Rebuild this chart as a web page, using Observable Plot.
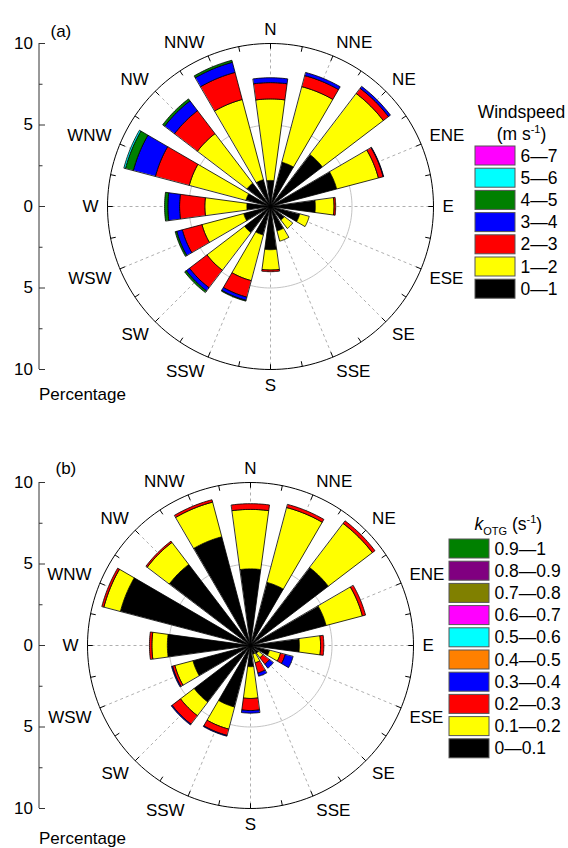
<!DOCTYPE html>
<html><head><meta charset="utf-8">
<script src="https://cdn.jsdelivr.net/npm/d3@7"></script>
<script src="https://cdn.jsdelivr.net/npm/@observablehq/plot@0.6"></script>
<style>
body{margin:0;background:#fff;}
svg{display:block;}
</style></head><body><div id="root"></div>
<script>
// ---------------- data ----------------
const directions = ["N","NNE","NE","ENE","E","ESE","SE","SSE","S","SSW","SW","WSW","W","WNW","NW","NNW"];
const axisTickValues = [10, 5, 0, -5, -10];
const axisTickLabels = ["10", "5", "0", "5", "10"];

// (a) wind speed bins (m s-1): percentage per direction
const speedBins = ["0\u20141","1\u20142","2\u20143","3\u20144","4\u20145","5\u20146","6\u20147"];
const speedColors = ["#000000","#ffff00","#ff0000","#0000ff","#008000","#00ffff","#ff00ff"];
const speed_0_1 = [1.6,2.8,4.0,4.2,2.75,1.85,1.05,1.55,2.65,1.8,2.0,1.7,1.45,1.55,1.8,1.7];
const speed_1_2 = [5.0,4.8,4.7,2.65,1.15,0.6,0.65,0.65,1.25,2.9,2.9,2.65,2.58,3.6,3.82,5.09];
const speed_2_3 = [1.0,0.7,0.4,0.3,0.1,0,0,0,0.1,1.05,1.35,1.25,1.55,2.15,1.77,1.72];
const speed_3_4 = [0.3,0.2,0.15,0.03,0,0,0,0,0,0.2,0.25,0.35,0.72,1.4,0.76,0.64];
const speed_4_5 = [0,0,0,0,0,0,0,0,0,0.05,0.12,0.1,0.2,0.5,0.15,0.13];
const speed_5_6 = [0,0,0,0,0,0,0,0,0,0,0,0,0,0.1,0,0];
const speed_6_7 = [0,0,0,0,0,0,0,0,0,0,0,0,0,0,0,0];

// (b) kOTG bins (s-1): percentage per direction
const kBins = ["0\u20140.1","0.1\u20140.2","0.2\u20140.3","0.3\u20140.4","0.4\u20140.5","0.5\u20140.6","0.6\u20140.7","0.7\u20140.8","0.8\u20140.9","0.9\u20141"];
const kColors = ["#000000","#ffff00","#ff0000","#0000ff","#ff8000","#00ffff","#ff00ff","#808000","#800080","#008000"];
const k_00_01 = [4.7,4.0,6.0,4.8,3.0,1.2,0.6,0.55,1.3,3.9,4.35,3.65,5.1,8.25,6.25,6.9];
const k_01_02 = [3.65,4.75,3.4,2.3,1.3,0.7,0.35,0.55,1.95,1.4,1.05,1.15,0.95,1.05,1.7,2.2];
const k_02_03 = [0.35,0.2,0.2,0.2,0.2,0.3,0.5,0.65,0.74,0.4,0.65,0.15,0.15,0.13,0.1,0.15];
const k_03_04 = [0,0,0,0,0,0.5,0.3,0.2,0.16,0.05,0.06,0.06,0,0,0,0];
const k_04_05 = [0,0,0,0,0,0,0,0,0,0,0,0,0,0,0,0];
const k_05_06 = [0,0,0,0,0,0,0,0,0,0,0,0,0,0,0,0];
const k_06_07 = [0,0,0,0,0,0,0,0,0,0,0,0,0,0,0,0];
const k_07_08 = [0,0,0,0,0,0,0,0,0,0,0,0,0,0,0,0];
const k_08_09 = [0,0,0,0,0,0,0,0,0,0,0,0,0,0,0,0];
const k_09_10 = [0,0,0,0,0,0,0,0,0,0,0,0,0,0,0,0];

// ---------------- drawing ----------------
const FONT = "Liberation Sans, Arial, Helvetica, sans-serif";
const K = 16.3; // pixels per percent
const RMAX = 10;
const HW = 7.7 * Math.PI / 180;

function sectorPts(th, r0, r1, n = 14) {
  const pts = [];
  for (let t = 0; t <= n; t++) { const a = th - HW + 2 * HW * t / n; pts.push([r1 * Math.sin(a), r1 * Math.cos(a)]); }
  if (r0 <= 0) pts.push([0, 0]);
  else for (let t = n; t >= 0; t--) { const a = th - HW + 2 * HW * t / n; pts.push([r0 * Math.sin(a), r0 * Math.cos(a)]); }
  return pts;
}

function windrose(cfg) {
  const {W, H, cx, cy, series, colors, bins, panel, panelX, panelY, percentY, legend} = cfg;
  const ux = px => (px - cx) / K, uy = py => (cy - py) / K;

  const segs = [];
  directions.forEach((d, i) => {
    const th = i * Math.PI / 8;
    let r0 = 0;
    series.forEach((arr, j) => {
      const v = arr[i];
      if (!(v > 0)) return;
      const r1 = r0 + v;
      sectorPts(th, r0, r1).forEach(([x, y]) => segs.push({x, y, id: i + "-" + j, fill: colors[j]}));
      r0 = r1;
    });
  });

  const circle = r => d3.range(0, 361, 2).map(a => ({x: r * Math.sin(a * Math.PI / 180), y: r * Math.cos(a * Math.PI / 180)}));
  const ringTicks = d3.range(32).map(i => i * Math.PI / 16);
  const dirInfo = directions.map((d, i) => {
    const th = i * Math.PI / 8, s = Math.sin(th), c = Math.cos(th);
    return {d, th, s, c,
      ta: s > 0.01 ? "start" : s < -0.01 ? "end" : "middle",
      la: c > 0.01 ? "bottom" : c < -0.01 ? "top" : "middle"};
  });
  const labelR = 172 / K;
  const labelMarks = [];
  for (const ta of ["start", "middle", "end"]) for (const la of ["top", "middle", "bottom"]) {
    const sub = dirInfo.filter(o => o.ta === ta && o.la === la);
    if (!sub.length) continue;
    labelMarks.push(Plot.text(sub, {x: o => labelR * o.s, y: o => labelR * o.c, text: "d",
      textAnchor: ta, lineAnchor: la, fontSize: 17}));
  }

  const axisX = ux(38.5);
  const minorTicks = [7.5, 2.5, -2.5, -7.5];
  const lg = legend;
  const legData = bins.map((b, j) => ({b, color: colors[j]})).reverse();

  const svg = Plot.plot({
    width: W, height: H, margin: 0,
    x: {domain: [ux(0), ux(W)], axis: null},
    y: {domain: [uy(H), uy(0)], axis: null},
    color: {type: "identity"},
    style: {fontFamily: FONT, fontSize: "17px", background: "#fff", overflow: "visible"},
    marks: [
      // spokes and inner ring
      Plot.link(dirInfo, {x1: 0, y1: 0, x2: o => RMAX * o.s, y2: o => RMAX * o.c, stroke: "#9a9a9a", strokeWidth: 0.8, strokeDasharray: "3,3"}),
      Plot.line(circle(5), {x: "x", y: "y", stroke: "#c4c4c4", strokeWidth: 1}),
      // bars
      Plot.line(segs, {x: "x", y: "y", z: "id", fill: "fill", stroke: "#000", strokeWidth: 0.8, strokeLinejoin: "miter", curve: "linear-closed"}),
      // outer ring with ticks
      Plot.line(circle(RMAX), {x: "x", y: "y", stroke: "#000", strokeWidth: 1}),
      Plot.link(ringTicks, {x1: a => RMAX * Math.sin(a), y1: a => RMAX * Math.cos(a), x2: a => (RMAX - 0.32) * Math.sin(a), y2: a => (RMAX - 0.32) * Math.cos(a), stroke: "#000", strokeWidth: 1}),
      ...labelMarks,
      // left percentage axis
      Plot.ruleX([axisX], {y1: -RMAX, y2: RMAX, stroke: "#333", strokeWidth: 1}),
      Plot.link(axisTickValues, {x1: () => axisX, x2: () => axisX + 6 / K, y1: d => d, y2: d => d, stroke: "#333", strokeWidth: 1}),
      Plot.link(minorTicks, {x1: () => axisX, x2: () => axisX + 3.5 / K, y1: d => d, y2: d => d, stroke: "#333", strokeWidth: 1}),
      Plot.text(axisTickValues, {x: () => axisX - 6 / K, y: d => d, text: (d, i) => axisTickLabels[i], textAnchor: "end", fontSize: 17}),
      Plot.text([panel], {x: () => ux(panelX), y: () => uy(panelY), text: d => d, textAnchor: "start", lineAnchor: "bottom", fontSize: 17}),
      Plot.text(["Percentage"], {x: () => ux(38.5), y: () => uy(percentY), text: d => d, textAnchor: "start", lineAnchor: "bottom", fontSize: 17}),
      // legend
      Plot.rect(legData, {x1: () => ux(lg.x0), x2: () => ux(lg.x0 + lg.w), y1: (d, i) => uy(lg.top + i * lg.step), y2: (d, i) => uy(lg.top + i * lg.step + lg.h), fill: "color", stroke: "#555", strokeWidth: 1}),
      Plot.text(legData, {x: () => ux(lg.textX), y: (d, i) => uy(lg.top + i * lg.step + lg.h / 2), text: "b", textAnchor: "start", fontSize: 17.5}),
      ...lg.titles.map(t => Plot.text([t.text], {x: () => ux(t.x), y: () => uy(t.y), text: d => d, textAnchor: t.anchor, lineAnchor: "bottom", fontSize: 17.5}))
    ]
  });
  return svg;
}

function richText(svg, match, parts) {
  d3.select(svg).selectAll("text").filter(function () { return this.textContent === match; }).each(function () {
    const t = d3.select(this);
    t.text(null);
    parts.forEach(p => {
      const s = t.append("tspan").text(p.text);
      if (p.size) s.attr("font-size", p.size);
      if (p.dy) s.attr("dy", p.dy);
      if (p.italic) s.attr("font-style", "italic");
    });
  });
}

const root = document.getElementById("root");
const svgA = windrose({
  W: 568, H: 424, cx: 270, cy: 206,
  series: [speed_0_1, speed_1_2, speed_2_3, speed_3_4, speed_4_5, speed_5_6, speed_6_7],
  colors: speedColors, bins: speedBins,
  panel: "(a)", panelX: 50, panelY: 36, percentY: 399,
  legend: {x0: 475, w: 40, top: 146, step: 22.2, h: 19, textX: 520,
    titles: [{text: "Windspeed", x: 521, y: 117, anchor: "middle"}, {text: "(m s-1)", x: 521, y: 139, anchor: "middle"}]}
});
richText(svgA, "(m s-1)", [{text: "(m s"}, {text: "-1", size: 11, dy: -7}, {text: ")", dy: 7}]);
root.appendChild(svgA);

const svgB = windrose({
  W: 568, H: 424, cx: 250, cy: 221,
  series: [k_00_01, k_01_02, k_02_03, k_03_04, k_04_05, k_05_06, k_06_07, k_07_08, k_08_09, k_09_10],
  colors: kColors, bins: kBins,
  panel: "(b)", panelX: 55, panelY: 49, percentY: 419,
  legend: {x0: 449, w: 40, top: 115, step: 22.2, h: 19, textX: 494,
    titles: [{text: "kOTG (s-1)", x: 474, y: 105, anchor: "start"}]}
});
richText(svgB, "kOTG (s-1)", [{text: "k", italic: true}, {text: "OTG", size: 11, dy: 5}, {text: " (s", dy: -5}, {text: "-1", size: 11, dy: -7}, {text: ")", dy: 7}]);
root.appendChild(svgB);
</script>
</body></html>
